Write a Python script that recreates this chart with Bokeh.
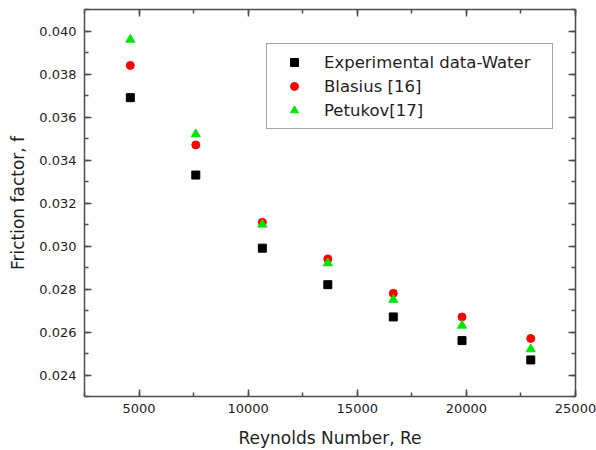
from bokeh.plotting import figure
from bokeh.models import (ColumnDataSource, LinearAxis, SingleIntervalTicker,
                          NumeralTickFormatter, CustomJSTickFormatter, Range1d, Legend, LegendItem)
from bokeh.embed import file_html
from bokeh.resources import INLINE

# ---- data ----
reynolds = [4600, 7600, 10650, 13650, 16650, 19800, 22950]
experimental = [0.0369, 0.0333, 0.0299, 0.0282, 0.0267, 0.0256, 0.0247]
blasius = [0.0384, 0.0347, 0.0311, 0.0294, 0.0278, 0.0267, 0.0257]
petukov = [0.0396, 0.0352, 0.0310, 0.0292, 0.0275, 0.0263, 0.0252]
series_names = ["Experimental data-Water", "Blasius [16]", "Petukov[17]"]

FONT = "DejaVu Sans"
AX_COLOR = "#4d4d4d"
TXT = "#1e1e1e"

src = ColumnDataSource(dict(re=reynolds, exp=experimental, bla=blasius, pet=petukov))

p = figure(width=596, height=450, output_backend="svg", toolbar_location=None,
           x_range=Range1d(2500, 25000), y_range=Range1d(0.023, 0.041),
           min_border_left=84, min_border_right=21, min_border_top=9, min_border_bottom=54,
           x_axis_label="Reynolds Number, Re", y_axis_label="Friction factor, f")
p.outline_line_color = None
p.xgrid.visible = False
p.ygrid.visible = False
p.background_fill_color = "white"
p.border_fill_color = "white"

p.xaxis.ticker = SingleIntervalTicker(interval=5000, num_minor_ticks=2)
p.yaxis.ticker = SingleIntervalTicker(interval=0.002, num_minor_ticks=2)
p.yaxis.formatter = NumeralTickFormatter(format="0.000")


def style_axis(ax, labels=True):
    ax.axis_line_color = AX_COLOR
    ax.axis_line_width = 1.5
    ax.major_tick_line_color = AX_COLOR
    ax.minor_tick_line_color = AX_COLOR
    ax.major_tick_line_width = 1.5
    ax.minor_tick_line_width = 1.5
    ax.major_tick_in = 7
    ax.major_tick_out = 0
    ax.minor_tick_in = 4
    ax.minor_tick_out = 0
    if labels:
        ax.major_label_text_font = FONT
        ax.major_label_text_font_size = "13px"
        ax.major_label_text_color = TXT
        ax.axis_label_text_font = FONT
        ax.axis_label_text_font_size = "17px"
        ax.axis_label_text_font_style = "normal"
        ax.axis_label_text_color = TXT


for ax in p.xaxis:
    style_axis(ax)
    ax.major_label_standoff = 7
    ax.axis_label_standoff = 12
for ax in p.yaxis:
    style_axis(ax)
    ax.major_label_standoff = 8
    ax.axis_label_standoff = 8

blank = CustomJSTickFormatter(code="return ''")
top = LinearAxis(ticker=SingleIntervalTicker(interval=5000, num_minor_ticks=2), formatter=blank,
                 major_label_standoff=0)
right = LinearAxis(ticker=SingleIntervalTicker(interval=0.002, num_minor_ticks=2), formatter=blank,
                   major_label_standoff=0)
style_axis(top, labels=False)
style_axis(right, labels=False)
p.add_layout(top, "above")
p.add_layout(right, "right")

r_exp = p.scatter("re", "exp", source=src, marker="square", size=8,
                  fill_color="black", line_color="black")
r_bla = p.scatter("re", "bla", source=src, marker="circle", size=8,
                  fill_color="#ff0000", line_color="#ff0000")
r_pet = p.scatter("re", "pet", source=src, marker="triangle", size=9,
                  fill_color="#00e600", line_color="#00e600")

legend = Legend(items=[LegendItem(label=series_names[0], renderers=[r_exp]),
                       LegendItem(label=series_names[1], renderers=[r_bla]),
                       LegendItem(label=series_names[2], renderers=[r_pet])],
                location=(182, 267))
legend.label_text_font = FONT
legend.label_text_font_size = "16.5px"
legend.label_text_color = TXT
legend.border_line_color = AX_COLOR
legend.border_line_width = 1.2
legend.padding = 8
legend.spacing = 4
legend.glyph_width = 38
legend.glyph_height = 20
legend.label_height = 20
legend.label_width = 220
legend.label_standoff = 11
legend.margin = 0
legend.background_fill_alpha = 1
p.add_layout(legend, "center")

open("out.html", "w").write(file_html(p, INLINE))
